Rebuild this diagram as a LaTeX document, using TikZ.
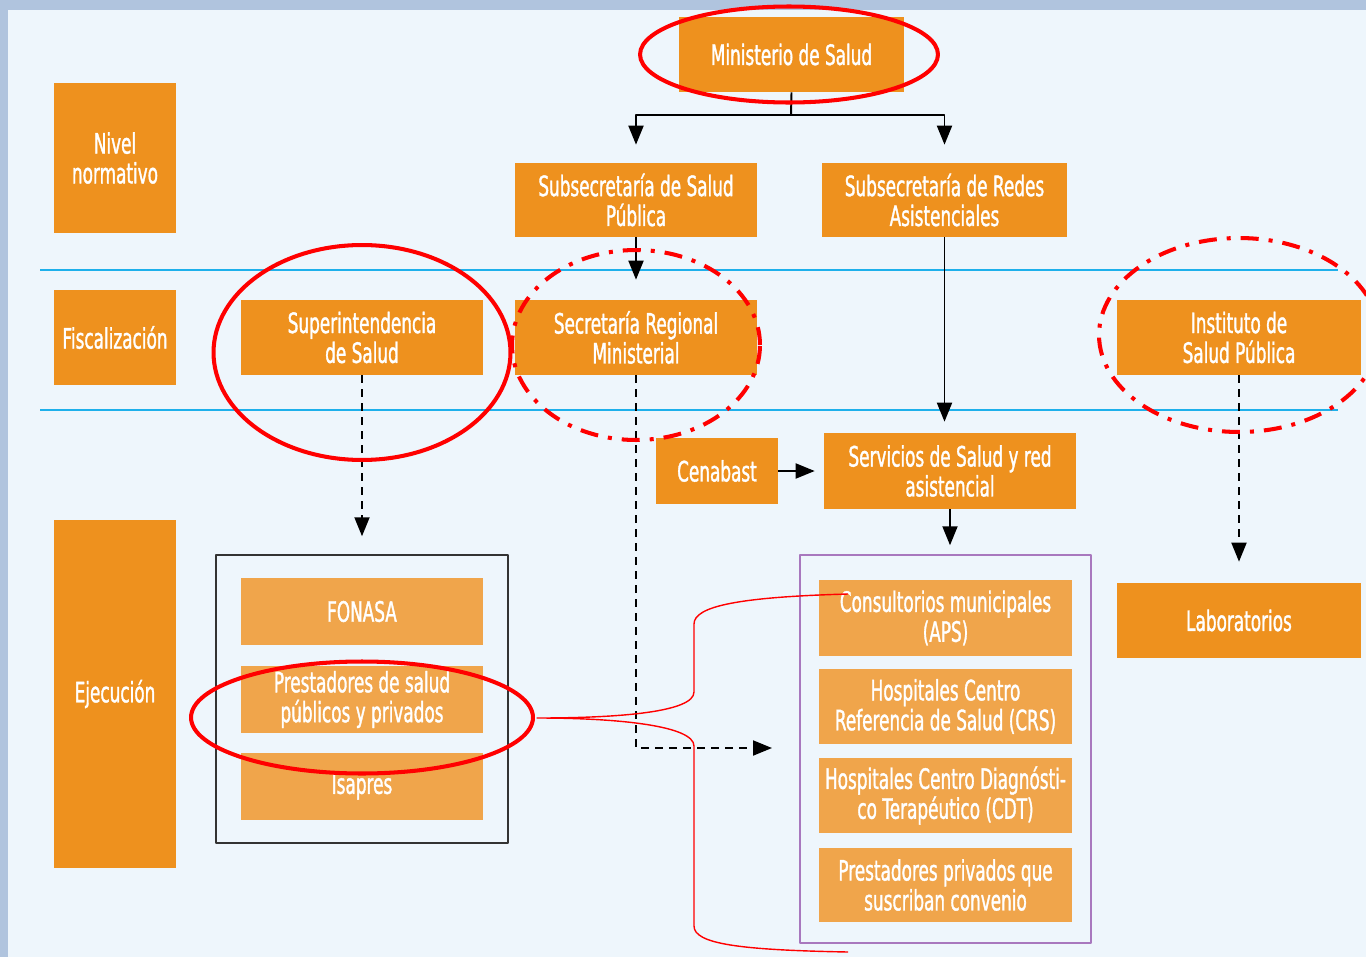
\documentclass[tikz,border=0pt]{standalone}
\usepackage{fontspec}
\setmainfont{DejaVu Sans}[FakeStretch=0.6,FakeBold=1.2]
\usetikzlibrary{arrows.meta}

\begin{document}
\begin{tikzpicture}[x=0.02cm,y=-0.02cm,line join=round]
	\definecolor{naranja}{RGB}{238,145,30}
	\definecolor{naranjaclaro}{RGB}{240,165,75}
	\definecolor{fondo}{RGB}{238,246,252}
	\definecolor{marco}{RGB}{176,196,222}
	\definecolor{celeste}{RGB}{30,176,235}
	\definecolor{lila}{RGB}{168,120,190}
	\tikzset{
		caja/.style={fill=naranja,text=white,inner sep=0pt,align=center,
			font=\fontsize{16}{17}\selectfont,minimum width=4.84cm,minimum height=1.5cm},
		cajaclara/.style={caja,fill=naranjaclaro},
		nivel/.style={caja,minimum width=2.44cm},
		flecha/.style={line width=1.1pt,-{Triangle[width=0.3cm,length=0.38cm]}},
		guion/.style={flecha,dash pattern=on 0.16cm off 0.12cm},
		rojo/.style={red,line width=2.3pt},
		rojopunto/.style={rojo,dash pattern=on 0.36cm off 0.2cm on 0.08cm off 0.2cm},
	}
	\useasboundingbox (0,0) rectangle (1366,957);
	\fill[marco] (0,0) rectangle (1366,957);
	\fill[fondo] (8,10) rectangle (1366,957);
	% franjas
	\draw[celeste,line width=0.9pt] (40,270)--(1338,270) (40,410)--(1338,410);
	
	%%%% niveles
	\node[nivel,minimum height=3cm] (normativo) at (115,158) {Nivel\\normativo};
	\node[nivel,minimum height=1.9cm] (fiscaliza) at (115,337.5) {Fiscalización};
	\node[nivel,minimum height=6.96cm] (ejecucion) at (115,694) {Ejecución};
	
	%%%% arriba
	\node[caja,minimum width=4.5cm] (minsal) at (791.5,54.5) {Ministerio de Salud};
	\node[caja,minimum height=1.48cm] (subsp) at (636,200) {Subsecretaría de Salud\\Pública};
	\node[caja,minimum width=4.9cm,minimum height=1.48cm] (subred) at (944.5,200) {Subsecretaría de Redes\\Asistenciales};
	
	%%%% fiscalizacion
	\node[caja] (superint) at (362,337.5) {Superintendencia\\de Salud};
	\node[caja] (seremi) at (636,337.5) {Secretaría Regional\\Ministerial};
	\node[caja,minimum width=4.88cm] (isp) at (1239,337.5) {Instituto de\\Salud Pública};
	
	%%%% ejecucion
	\node[caja,minimum width=2.44cm,minimum height=1.32cm] (cenabast) at (717,471) {Cenabast};
	\node[caja,minimum width=5.04cm,minimum height=1.52cm] (servicios) at (950,471) {Servicios de Salud y red\\asistencial};
	\node[caja,minimum width=4.88cm] (lab) at (1239,620.5) {Laboratorios};
	
	\node[draw=black!80,line width=0.9pt,minimum width=5.84cm,minimum height=5.76cm] (seguro) at (362,699) {};
	\node[cajaclara,minimum height=1.34cm] (fonasa) at (362,611.5) {FONASA};
	\node[cajaclara,minimum height=1.34cm] (prest) at (362,699.5) {Prestadores de salud\\públicos y privados};
	\node[cajaclara,minimum height=1.34cm] (isapres) at (362,786.5) {Isapres};
	
	\node[draw=lila,line width=0.9pt,minimum width=5.82cm,minimum height=7.76cm] (red) at (945.5,749) {};
	\node[cajaclara,minimum width=5.06cm,minimum height=1.52cm] (aps) at (945.5,618) {Consultorios municipales\\(APS)};
	\node[cajaclara,minimum width=5.06cm] (crs) at (945.5,706.5) {Hospitales Centro\\Referencia de Salud (CRS)};
	\node[cajaclara,minimum width=5.06cm] (cdt) at (945.5,795.5) {Hospitales Centro Diagnósti-\\co Terapéutico (CDT)};
	\node[cajaclara,minimum width=5.06cm,minimum height=1.48cm] (privados) at (945.5,885) {Prestadores privados que\\suscriban convenio};
	
	%%%% flechas
	\coordinate (j) at (791,115);
	\coordinate (fin) at (772,748);
	\draw[line width=1.1pt] (minsal.south)--(j);
	\draw[flecha,shorten >=0.36cm] (j)-|(subsp.north);
	\draw[flecha,shorten >=0.36cm] (j)-|(subred.north);
	\draw[flecha,shorten >=0.4cm] (subsp.south)--(seremi.north);
	\draw[flecha,shorten >=0.22cm] (subred.south)--(subred.south|-servicios.north);
	\draw[flecha,shorten >=0.18cm] (cenabast)--(servicios);
	\draw[flecha,shorten >=0.18cm] (servicios.south)--(red.north-|servicios.south);
	\draw[guion,shorten >=0.36cm] (superint.south)--(seguro.north);
	\draw[guion,shorten >=0.42cm] (isp.south)--(lab.north);
	\draw[guion] (seremi.south)|-(fin);
	
	%%%% llave roja
	\coordinate (pico) at (537,718);
	\draw[red,line width=0.8pt] (848,594) .. controls (740,597) and (694,606) .. (694,624)--(694,692)
		.. controls (694,712) and (620,718) .. (pico)
		.. controls (620,718) and (694,726) .. (694,746)--(694,926)
		.. controls (694,944) and (740,950) .. (848,952);
	
	%%%% elipses
	\draw[rojo] ([xshift=-0.05cm]minsal) ellipse [x radius=2.98cm,y radius=0.96cm];
	\draw[rojo] ([yshift=-0.3cm]superint) ellipse [x radius=2.97cm,y radius=2.15cm];
	\draw[rojo] ([yshift=-0.36cm]prest) ellipse [x radius=3.42cm,y radius=1.12cm];
	\draw[rojopunto] ([yshift=-0.15cm]seremi) ellipse [x radius=2.48cm,y radius=1.9cm];
	\draw[rojopunto] ([yshift=0.05cm]isp) ellipse [x radius=2.8cm,y radius=1.94cm];
\end{tikzpicture}
\end{document}
